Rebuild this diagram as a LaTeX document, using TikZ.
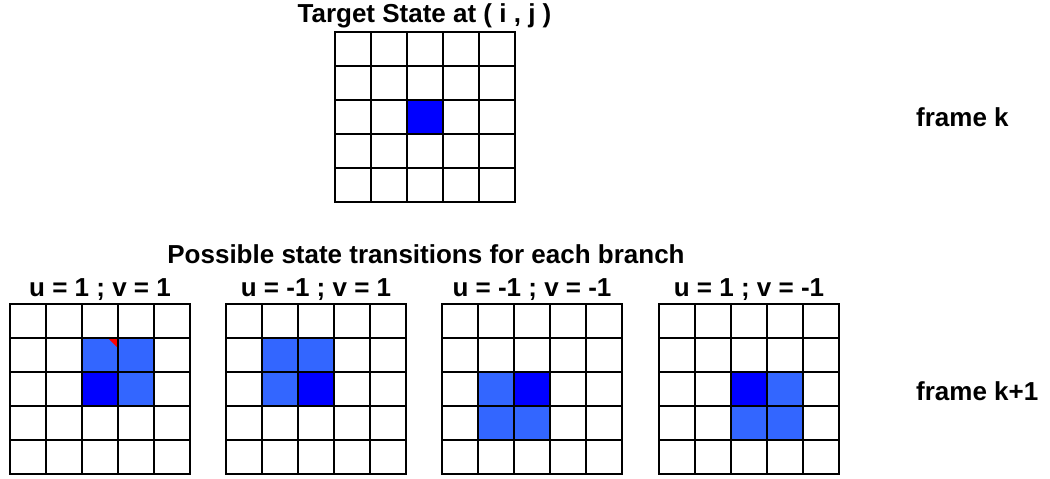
\documentclass[tikz,border=0pt]{standalone}
\usepackage{fontspec}
\setmainfont{Liberation Sans}
\definecolor{cellcur}{HTML}{0000FF}
\definecolor{cellnext}{HTML}{3366FF}
\definecolor{cellmark}{HTML}{FF0000}
% 5x5 grid of 36 x 34 cells with top-left corner at (#1,#2)
\newcommand\cellgrid[2]{%
  \foreach \k in {0,...,5}{%
    \draw[gridline] ({#1+36*\k},#2) -- ++(0,170);
    \draw[gridline] (#1,{#2+34*\k}) -- ++(180,0);
  }}
% fill cell (column #4, row #5) of the grid at (#2,#3) with colour #1
\newcommand\paintcell[5]{%
  \fill[#1] ({#2+36*(#4-1)},{#3+34*(#5-1)}) rectangle ++(36,34);}
\begin{document}
\begin{tikzpicture}[x=1pt,y=-1pt,
  gridline/.style={line width=2pt,black,line cap=rect},
  lbl/.style={font=\bfseries\fontsize{26}{26}\selectfont,inner sep=0pt,anchor=base},
  sidelbl/.style={lbl,anchor=base west}]
\useasboundingbox[fill=white] (0,0) rectangle (1050,479);

% frame k: the target state
\node[lbl] (title) at (424.5,23) {Target State at ( i , j )};
\paintcell{cellcur}{334.5}{32}{3}{3}
\cellgrid{334.5}{32}
\node[sidelbl] (framek) at (916,126) {frame k};

% frame k+1: one grid per branch
\node[lbl] (subtitle) at (426,263) {Possible state transitions for each branch};

% u = 1 ; v = 1
\node[lbl] (b1) at (100,296) {u = 1 ; v = 1};
\paintcell{cellnext}{10}{304}{3}{2}
\paintcell{cellnext}{10}{304}{4}{2}
\paintcell{cellnext}{10}{304}{4}{3}
\paintcell{cellcur}{10}{304}{3}{3}
\fill[cellmark] (108,338) -- (118,338) -- (118,348) -- cycle;
\cellgrid{10}{304}

% u = -1 ; v = 1
\node[lbl] (b2) at (316,296) {u = -1 ; v = 1};
\paintcell{cellnext}{226}{304}{2}{2}
\paintcell{cellnext}{226}{304}{3}{2}
\paintcell{cellnext}{226}{304}{2}{3}
\paintcell{cellcur}{226}{304}{3}{3}
\cellgrid{226}{304}

% u = -1 ; v = -1
\node[lbl] (b3) at (532,296) {u = -1 ; v = -1};
\paintcell{cellnext}{442}{304}{2}{3}
\paintcell{cellnext}{442}{304}{2}{4}
\paintcell{cellnext}{442}{304}{3}{4}
\paintcell{cellcur}{442}{304}{3}{3}
\cellgrid{442}{304}

% u = 1 ; v = -1
\node[lbl] (b4) at (749,296) {u = 1 ; v = -1};
\paintcell{cellnext}{659}{304}{4}{3}
\paintcell{cellnext}{659}{304}{3}{4}
\paintcell{cellnext}{659}{304}{4}{4}
\paintcell{cellcur}{659}{304}{3}{3}
\cellgrid{659}{304}

\node[sidelbl] (framek1) at (916,400) {frame k+1};
\end{tikzpicture}
\end{document}
